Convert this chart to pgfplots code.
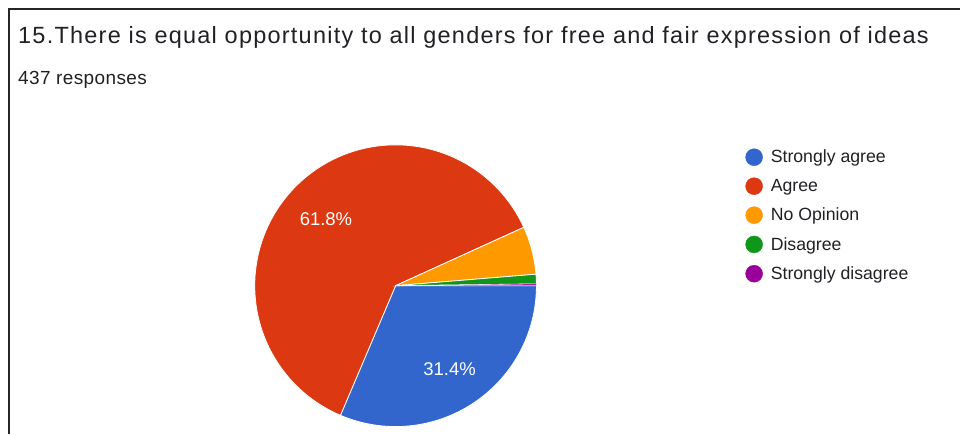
\documentclass[border=0pt]{standalone}
\usepackage{fontspec}
\setmainfont{Liberation Sans}
\newfontfamily\titlefont[LetterSpace=5.3]{Liberation Sans}
\newfontfamily\subfont[LetterSpace=2]{Liberation Sans}
\usepackage{pgfplots}
\pgfplotsset{compat=1.18}
\definecolor{gblue}{HTML}{3366CC}
\definecolor{gred}{HTML}{DC3912}
\definecolor{gorange}{HTML}{FF9900}
\definecolor{ggreen}{HTML}{109618}
\definecolor{gpurple}{HTML}{990099}
\definecolor{gtext}{HTML}{202124}
% slice: start% end% colour  (centre 396,286; radius 141; clockwise from 3 o'clock)
\newcommand{\slice}[3]{%
  \addplot[forget plot, fill=#3, draw=white, line width=0.8pt, domain=#1*3.6:#2*3.6, samples=120, variable=\t]
    ({396+141*cos(\t)},{286+141*sin(\t)}) -- (396,286) -- cycle;}
\begin{document}
\begin{tikzpicture}
\begin{axis}[
  scale only axis, width=961pt, height=434pt,
  xmin=0, xmax=961, ymin=0, ymax=434, y dir=reverse,
  hide axis, clip=false,
  legend style={draw=none, fill=none, at={(axis cs:743,146)}, anchor=north west,
    font=\fontsize{17.7}{20}\selectfont, text=gtext, row sep=11pt,
    /tikz/every odd column/.append style={column sep=6pt}},
  legend cell align=left,
  legend image code/.code={\fill[#1] (8.5pt,0pt) circle (8.5pt);},
]
% invisible frame so the page covers the whole 961 x 434 area
\addplot[forget plot, draw=none] coordinates {(0,0) (961,0) (961,434) (0,434)};
% percentages: Strongly agree 31.4, Agree 61.8, No Opinion 5.5, Disagree 1.1, Strongly disagree 0.2
\slice{0}{31.4}{gblue}
\slice{31.4}{93.2}{gred}
\slice{93.2}{98.7}{gorange}
\slice{98.7}{99.8}{ggreen}
\addplot[forget plot, fill=gpurple, draw=white, line width=0.3pt, domain=99.8*3.6:100*3.6, samples=10, variable=\t]
    ({396+141*cos(\t)},{286+141*sin(\t)}) -- (396,286) -- cycle;
% frame
\addplot[forget plot, color=black!85, line width=2pt] coordinates {(9.5,434) (9.5,9.5) (961,9.5)};
\addlegendimage{gblue}\addlegendentry{Strongly agree}
\addlegendimage{gred}\addlegendentry{Agree}
\addlegendimage{gorange}\addlegendentry{No Opinion}
\addlegendimage{ggreen}\addlegendentry{Disagree}
\addlegendimage{gpurple}\addlegendentry{Strongly disagree}
\node[anchor=base west, inner sep=0pt, text=gtext, font=\titlefont\fontsize{23.5}{27}\selectfont] at (axis cs:18,43.3) {15.There is equal opportunity to all genders for free and fair expression of ideas};
\node[anchor=base west, inner sep=0pt, text=gtext, font=\subfont\fontsize{19}{22}\selectfont] at (axis cs:18,85) {437 responses};
\node[anchor=base, inner sep=0pt, text=white, font=\fontsize{18.5}{21}\selectfont] at (axis cs:326.3,226) {61.8\%};
\node[anchor=base, inner sep=0pt, text=white, font=\fontsize{18.5}{21}\selectfont] at (axis cs:450,376) {31.4\%};
\end{axis}
\end{tikzpicture}
\end{document}
